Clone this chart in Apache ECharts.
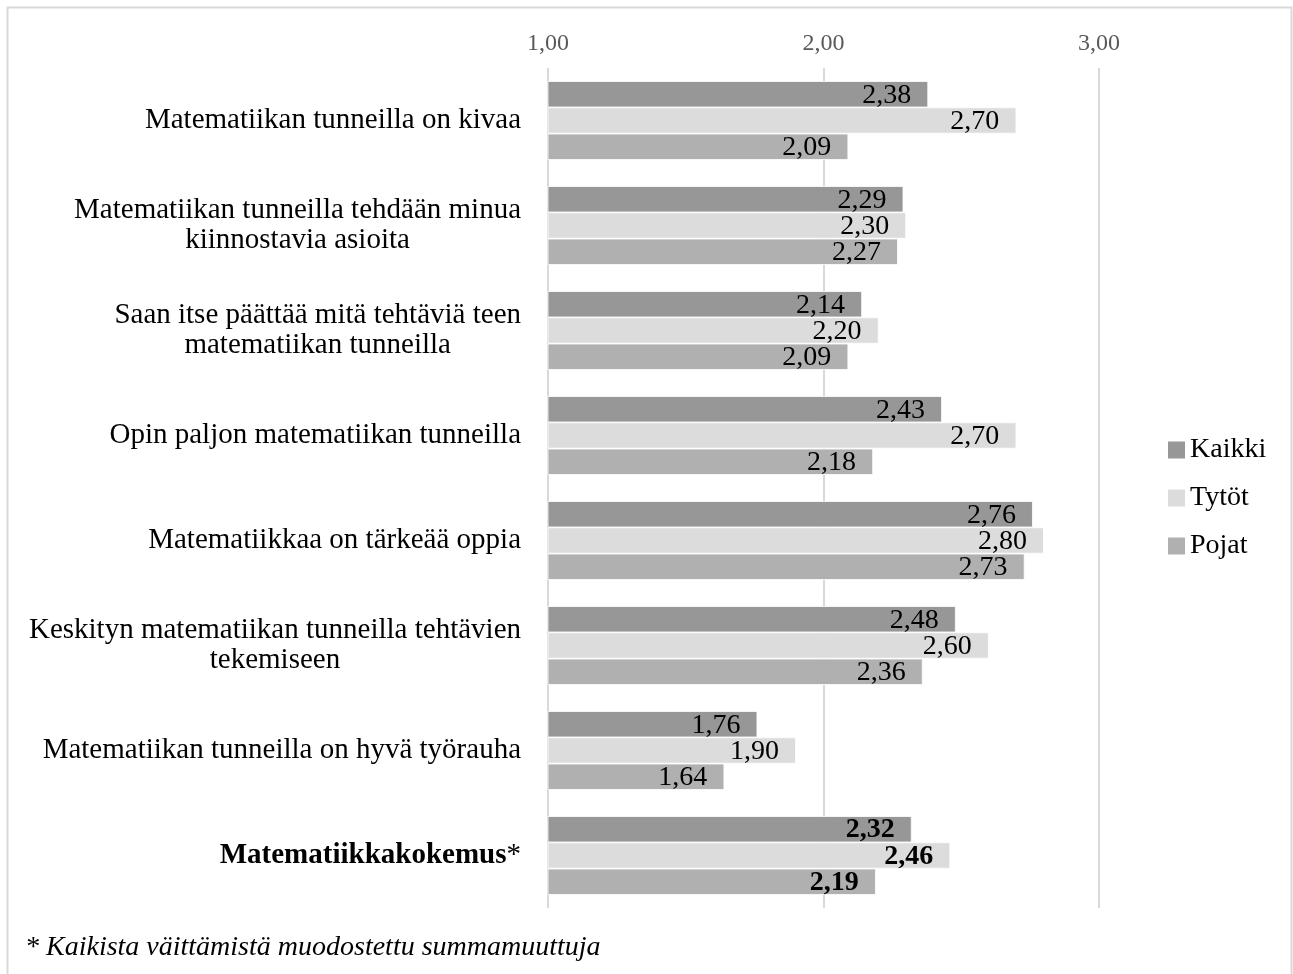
<!DOCTYPE html>
<html>
<head>
<meta charset="utf-8">
<script src="https://cdn.jsdelivr.net/npm/echarts@6/dist/echarts.min.js"></script>
<style>
  html, body { margin: 0; padding: 0; background: #fff; }
  #chart { width: 1293px; height: 974px; }
</style>
</head>
<body>
<div id="chart"></div>
<script>
const categories = [
  'Matematiikan tunneilla on kivaa',
  'Matematiikan tunneilla tehdään minua\nkiinnostavia asioita',
  'Saan itse päättää mitä tehtäviä teen\nmatematiikan tunneilla',
  'Opin paljon matematiikan tunneilla',
  'Matematiikkaa on tärkeää oppia',
  'Keskityn matematiikan tunneilla tehtävien\ntekemiseen',
  'Matematiikan tunneilla on hyvä työrauha',
  'Matematiikkakokemus'
]
const kaikki = [2.38, 2.29, 2.14, 2.43, 2.76, 2.48, 1.76, 2.32]
const tytot = [2.70, 2.30, 2.20, 2.70, 2.80, 2.60, 1.90, 2.46]
const pojat = [2.09, 2.27, 2.09, 2.18, 2.73, 2.36, 1.64, 2.19]
const xTicks = [1, 2, 3]
const footnote = '* Kaikista väittämistä muodostettu summamuuttuja'

const serif = "'Liberation Serif', 'Times New Roman', serif"
const fmt = v => v.toFixed(2).replace('.', ',')
const lastIdx = categories.length - 1

function barData(values) {
  return values.map((v, i) => i === lastIdx ? { value: v, label: { fontWeight: 'bold' } } : v)
}

function makeSeries(name, values, color) {
  return {
    name: name,
    type: 'bar',
    data: barData(values),
    barGap: '0%',
    barCategoryGap: '25%',
    itemStyle: {
      color: color,
      borderColor: '#ffffff',
      borderWidth: 0.8
    },
    label: {
      show: true,
      position: 'insideRight',
      distance: 17,
      offset: [0, 1],
      color: '#000',
      fontFamily: serif,
      fontSize: 28,
      formatter: p => fmt(p.value)
    },
    animation: false
  }
}

const chart = echarts.init(document.getElementById('chart'))
chart.setOption({
  backgroundColor: '#fff',
  grid: {
    left: 548,
    right: 194,
    top: 68,
    bottom: 66
  },
  legend: {
    orient: 'vertical',
    left: 1163,
    top: 430,
    itemWidth: 17,
    itemHeight: 17,
    itemGap: 18,
    icon: 'rect',
    itemStyle: { borderWidth: 0 },
    textStyle: {
      fontFamily: serif,
      fontSize: 28,
      color: '#000',
      lineHeight: 30
    },
    data: ['Kaikki', 'Tytöt', 'Pojat']
  },
  xAxis: {
    type: 'value',
    position: 'top',
    min: xTicks[0],
    max: xTicks[xTicks.length - 1],
    interval: 1,
    axisLine: { show: false },
    axisTick: { show: false },
    axisLabel: {
      color: '#595959',
      fontFamily: serif,
      fontSize: 24,
      margin: 12,
      formatter: v => xTicks.indexOf(v) >= 0 ? fmt(v) : ''
    },
    splitLine: {
      show: true,
      lineStyle: { color: '#d9d9d9', width: 2 }
    }
  },
  yAxis: {
    type: 'category',
    inverse: true,
    data: categories,
    axisLine: { show: false },
    axisTick: { show: false },
    axisLabel: {
      margin: 27,
      color: '#000',
      fontFamily: serif,
      fontSize: 29,
      lineHeight: 30,
      formatter: (v, i) => {
        if (i === lastIdx) return '{b|' + v + '}{n|*}'
        return v.split('\n').map(s => '{c|' + s + '}').join('\n')
      },
      rich: {
        c: { align: 'center', fontFamily: serif, fontSize: 29, lineHeight: 30, color: '#000' },
        b: { fontWeight: 'bold', fontFamily: serif, fontSize: 29, lineHeight: 30, color: '#000' },
        n: { fontFamily: serif, fontSize: 29, lineHeight: 30, color: '#000' }
      }
    }
  },
  graphic: [
    {
      type: 'rect',
      shape: { x: 7.5, y: 7.5, width: 1284, height: 990 },
      style: { fill: 'none', stroke: '#d9d9d9', lineWidth: 2 },
      silent: true
    },
    {
      type: 'text',
      left: 25,
      top: 934,
      style: {
        text: footnote,
        fontFamily: serif,
        fontStyle: 'italic',
        fontSize: 28,
        fill: '#000'
      }
    }
  ],
  series: [
    makeSeries('Kaikki', kaikki, '#979797'),
    makeSeries('Tytöt', tytot, '#dcdcdc'),
    makeSeries('Pojat', pojat, '#b0b0b0')
  ]
})
</script>
</body>
</html>
